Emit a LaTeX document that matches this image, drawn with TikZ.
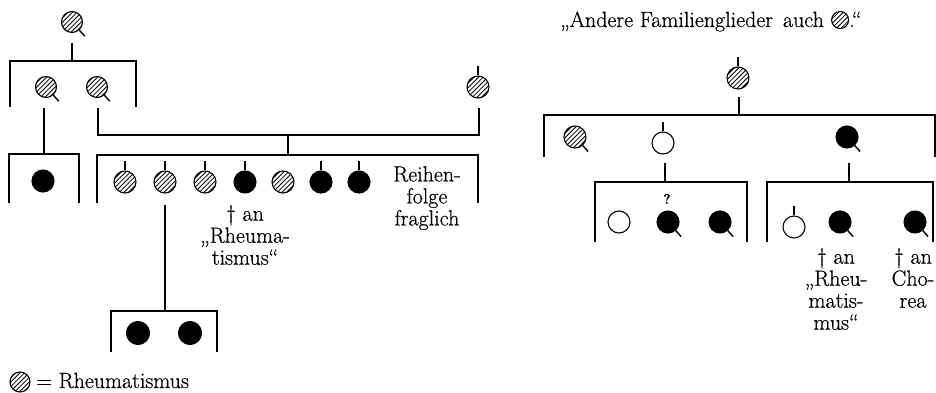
\documentclass[tikz,border=0pt]{standalone}
\usepackage{fontspec}
\setmainfont{Latin Modern Roman}[FakeBold=0.5]
\usetikzlibrary{calc}

\tikzset{
  sym/.style={circle, draw, line width=1.1pt, minimum size=22pt, inner sep=0pt},
  hatched/.style={sym, path picture={
      \foreach \k in {-6,...,6}{
        \draw[line width=0.8pt]
          ($(path picture bounding box.center)+(\k*4.6pt-16pt,-16pt)$) -- ++(32pt,32pt);
      }}},
  filled/.style={sym, fill=black},
  open/.style={sym},
  famline/.style={line width=2.6pt},
  mark line/.style={line width=1.4pt},
  lbl/.style={inner sep=0pt, align=center, font=\fontsize{22}{22}\selectfont},
  qmark/.style={inner sep=0pt, font=\bfseries\fontsize{14}{14}\selectfont}
}

% female: tail to the lower right; male: stem on top
\newcommand{\femtail}[1]{\draw[mark line] (#1.-48) -- ++(-48:8pt);}
\newcommand{\malestem}[1]{\draw[mark line] (#1.north) -- ++(0pt,9pt);}

\begin{document}
\begin{tikzpicture}[x=1pt, y=-1pt]
\useasboundingbox (0,0) rectangle (936,393);

% ---------------- left family ----------------
\node[hatched, minimum size=21pt] (I1) at (72,22) {};
\femtail{I1}
\coordinate (I1d) at (72,43);
\coordinate (S1t) at (72,61);
\coordinate (S1l) at (10,107);
\coordinate (S1r) at (136,107);
\draw[famline] (I1d) -- (S1t);
\draw[famline] (S1l) |- (S1t) -| (S1r);

\node[hatched, minimum size=21pt] (II1) at (46,87) {};
\femtail{II1}
\node[hatched, minimum size=21pt] (II2) at (97,87) {};
\femtail{II2}

% daughter of II1
\coordinate (II1d) at (44,108);
\coordinate (S3t) at (44,154);
\coordinate (S3l) at (9,203);
\coordinate (S3r) at (79,203);
\draw[famline] (II1d) -- (S3t);
\draw[famline] (S3l) |- (S3t) -| (S3r);
\node[filled] (III1) at (43,181) {};

% marriage of II2 with II3
\node[hatched] (II3) at (478,87) {};
\malestem{II3}
\coordinate (II2d) at (98,108);
\coordinate (II3d) at (479,108);
\coordinate (M1) at (288,135);
\draw[famline] (II2d) |- (M1) -| (II3d);
\coordinate (S2t) at (288,155);
\coordinate (S2l) at (97,203);
\coordinate (S2r) at (478,203);
\draw[famline] (M1) -- (S2t);
\draw[famline] (S2l) |- (S2t) -| (S2r);

\node[hatched] (C1) at (125,182) {}; \malestem{C1}
\node[hatched] (C2) at (165,182) {}; \malestem{C2}
\node[hatched] (C3) at (205,182) {}; \malestem{C3}
\node[filled]  (C4) at (245,182) {}; \malestem{C4}
\node[hatched] (C5) at (283,182) {};
\node[filled]  (C6) at (321,182) {}; \malestem{C6}
\node[filled]  (C7) at (359,182) {}; \malestem{C7}

\node[lbl, anchor=north] (C4t) at (245,205) {† an\\„Rheuma-\\tismus“};
\node[lbl, anchor=north] (ordr) at (427,166) {Reihen-\\folge\\fraglich};

% grandchildren of C2
\coordinate (C2d) at (165,205);
\coordinate (S4t) at (165,311);
\coordinate (S4l) at (111,352);
\coordinate (S4r) at (217,352);
\draw[famline] (C2d) -- (S4t);
\draw[famline] (S4l) |- (S4t) -| (S4r);
\node[filled, minimum size=23pt] (G1) at (138,333) {};
\node[filled, minimum size=23pt] (G2) at (190,333) {};

% legend
\node[hatched, minimum size=20pt] (key) at (20,382) {};
\node[lbl, anchor=base west] (keyt) at (36,388) {= Rheumatismus};

% ---------------- right family ----------------
\node[lbl, anchor=base west] (ttl) at (560,27) {„Andere Familienglieder\hspace{0.15em} auch};
\node[hatched, minimum size=17pt] (ttls) at ($(ttl.base east)+(16pt,7pt)$) {};
\node[lbl, anchor=base west] (ttle) at ($(ttl.base east)+(25pt,0pt)$) {.“};

\node[hatched] (R1) at (738,78) {};
\malestem{R1}
\coordinate (R1d) at (739,97);
\coordinate (T1t) at (739,115);
\coordinate (T1l) at (544,157);
\coordinate (T1r) at (935,157);
\draw[famline] (R1d) -- (T1t);
\draw[famline] (T1l) |- (T1t) -| (T1r);

\node[hatched] (R2) at (575,137) {}; \femtail{R2}
\node[open]    (R3) at (663,143) {}; \malestem{R3}
\node[filled]  (R4) at (847,137) {}; \femtail{R4}

% children of R3
\coordinate (R3d) at (665,163);
\coordinate (T2t) at (665,182);
\coordinate (T2l) at (595,242);
\coordinate (T2r) at (747,242);
\draw[famline] (R3d) -- (T2t);
\draw[famline] (T2l) |- (T2t) -| (T2r);
\node[open]   (K1) at (619,222) {};
\node[filled] (K2) at (668,222) {}; \femtail{K2}
\node[filled] (K3) at (720,222) {}; \femtail{K3}
\node[qmark] (K2q) at (667,199) {?};

% children of R4
\coordinate (R4d) at (849,163);
\coordinate (T3t) at (849,182);
\coordinate (T3l) at (767,242);
\coordinate (T3r) at (933,242);
\draw[famline] (R4d) -- (T3t);
\draw[famline] (T3l) |- (T3t) -| (T3r);
\node[open]   (L1) at (794,227) {}; \malestem{L1}
\node[filled] (L2) at (840,222) {}; \femtail{L2}
\node[filled] (L3) at (915,222) {}; \femtail{L3}

\node[lbl, anchor=north] (L2t) at (836,248) {† an\\„Rheu-\\matis-\\mus“};
\node[lbl, anchor=north] (L3t) at (913,248) {† an\\Cho-\\rea};

\end{tikzpicture}
\end{document}
